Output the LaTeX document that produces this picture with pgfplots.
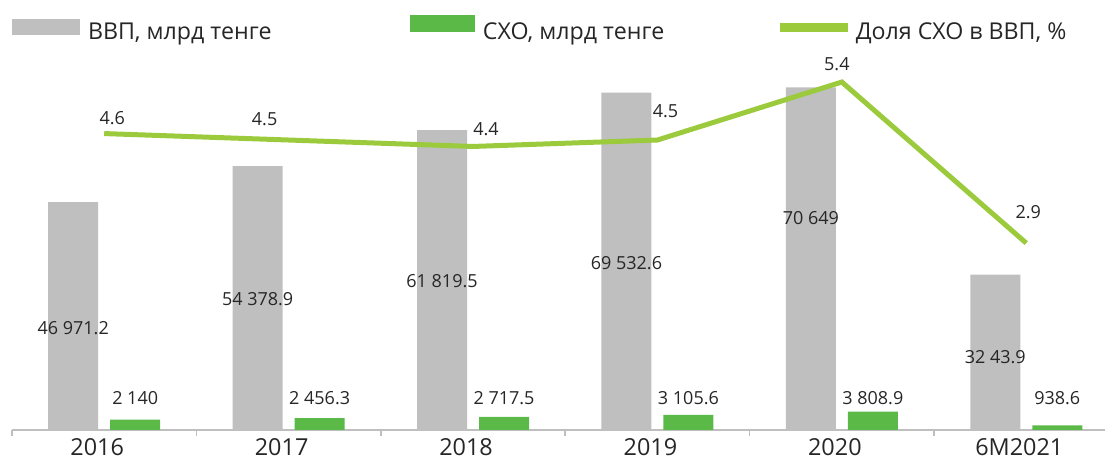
\documentclass[border=0pt]{standalone}
\usepackage{pgfplots}
\usepackage{pgfplotstable}
\pgfplotsset{compat=1.18}
\usepackage{fontspec}
\setmainfont{Open Sans}

\definecolor{barGray}{HTML}{BFBFBF}
\definecolor{barGreen}{HTML}{5BBA47}
\definecolor{lineGreen}{HTML}{9BCB3C}
\definecolor{axisGray}{HTML}{BFBFBF}
\definecolor{txt}{HTML}{262626}

% ВВП, млрд тенге (dy = label offset from bar top, pt)
\pgfplotstableread[col sep=comma]{
x,val,lab,dy
0,46971.2,46 971.2,-62.9
1,54378.9,54 378.9,-66.4
2,61819.5,61 819.5,-75.4
3,69532.6,69 532.6,-85.1
4,70649,70 649,-65.3
5,32043.9,32 43.9,-41.2
}\gdp

% СХО, млрд тенге
\pgfplotstableread[col sep=comma]{
x,val,lab,dy
0,2140,2 140,10.8
1,2456.3,2 456.3,10.0
2,2717.5,2 717.5,9.4
3,3105.6,3 105.6,8.5
4,3808.9,3 808.9,6.8
5,938.6,938.6,13.7
}\agro

% Доля СХО в ВВП, %
\pgfplotstableread[col sep=comma]{
x,val,lab,dx,dy
0,4.6,4.6,4,7.5
1,4.5,4.5,-12,10.5
2,4.4,4.4,6.5,8.5
3,4.5,4.5,4,14.5
4,5.4,5.4,-2.5,9
5,2.9,2.9,1,15.5
}\share

\newcommand{\lblfont}{\fontsize{9}{11}\selectfont}

\begin{document}
\begin{tikzpicture}
\begin{axis}[
    at={(0pt,0pt)}, anchor=south west,
    scale only axis, width=546.5pt, height=215pt,
    ybar, bar width=25pt,
    xmin=-0.5, xmax=5.427, ymin=0, ymax=88660,
    axis x line*=bottom, axis y line=none,
    x axis line style={draw=axisGray, line width=1pt},
    xtick={0,...,5},
    xticklabels={2016,2017,2018,2019,2020,6M2021},
    major tick length=0pt,
    xticklabel style={font=\fontsize{11.7}{14}\selectfont, text=txt,
        inner sep=0pt, anchor=north, yshift=-4pt, xshift=-3.5pt},
    extra x ticks={-0.5,0.5,1.5,2.5,3.5,4.5},
    extra x tick labels={},
    extra x tick style={major tick length=3pt, tick align=outside,
        major tick style={draw=axisGray, line width=0.8pt}},
    point meta=explicit symbolic,
    nodes near coords,
    nodes near coords style={font=\lblfont, text=txt, inner sep=0pt, anchor=center},
    visualization depends on={\thisrow{dy}\as\dy},
    every node near coord/.append style={yshift=\dy pt},
    legend columns=3,
    legend cell align=left,
    legend style={at={(0,0.965)}, anchor=north west, draw=none, fill=none,
        inner sep=0pt, outer sep=0pt, column sep=0pt,
        /tikz/every odd column/.append style={column sep=4pt},
        font=\fontsize{11.6}{13}\selectfont, text=txt,
        nodes={inner sep=0pt}},
    clip=false,
]
\addplot[fill=barGray, draw=none, bar shift=-15.5pt,
    legend image code/.code={\fill[barGray] (0pt,-0.8pt) rectangle (34pt,7.2pt);}]
    table[x=x, y=val, meta=lab] {\gdp};
\addplot[fill=barGreen, draw=none, bar shift=15.5pt,
    legend image code/.code={\fill[barGreen] (0pt,0.5pt) rectangle (32.5pt,9pt);}]
    table[x=x, y=val, meta=lab] {\agro};
\addlegendimage{legend image code/.code={\fill[lineGreen] (0pt,0.85pt) rectangle (33.5pt,4.85pt);}}
\legend{\raisebox{0pt}[7.5pt][2.5pt]{\makebox[161pt][l]{ВВП, млрд тенге}},
        \raisebox{0pt}[7.5pt][2.5pt]{\makebox[148.5pt][l]{СХО, млрд тенге}},
        \raisebox{0pt}[7.5pt][2.5pt]{Доля СХО в ВВП, \%}}
\end{axis}

\begin{axis}[
    at={(0pt,0pt)}, anchor=south west,
    scale only axis, width=546.5pt, height=215pt,
    xmin=-0.5, xmax=5.427, ymin=0, ymax=6.673,
    hide axis, clip=false,
]
\addplot[lineGreen, line width=2.5pt, mark=none,
    point meta=explicit symbolic,
    nodes near coords,
    visualization depends on={\thisrow{dx}\as\dx},
    visualization depends on={\thisrow{dy}\as\dy},
    nodes near coords style={font=\lblfont, text=txt, inner sep=0pt,
        anchor=center, xshift=\dx pt, yshift=\dy pt}]
    table[x=x, y=val, meta=lab] {\share};
\end{axis}
\pgfresetboundingbox
\path (-6pt,-14.5pt) rectangle (546.5pt,215pt);
\end{tikzpicture}
\end{document}
